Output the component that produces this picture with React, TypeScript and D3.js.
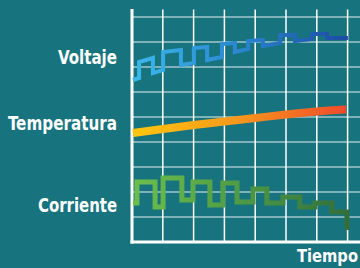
import React from "react";
import * as d3 from "d3";

const W = 360;
const H = 268;

// Grid
const timeTicks = [0, 1, 2, 3, 4, 5, 6, 7];
const levelTicks = [1, 2, 3, 4, 5, 6, 7, 8, 9];

// Series (t in grid units of time, v in grid units of level)
const voltaje: [number, number][] = [
  [0.03, 6.48], [0.23, 6.56], [0.23, 7.2], [0.68, 7.36], [0.68, 6.76], [1.01, 6.88],
  [1.01, 7.6], [1.59, 7.68], [1.59, 7.08], [2.01, 7.16], [2.01, 7.76], [2.44, 7.8],
  [2.44, 7.28], [2.92, 7.4], [2.92, 7.92], [3.34, 7.96], [3.34, 7.6], [3.77, 7.72],
  [3.77, 8.04], [4.25, 8.08], [4.25, 7.84], [4.81, 7.96], [4.81, 8.28], [5.29, 8.28],
  [5.29, 8.04], [5.84, 8.12], [5.84, 8.32], [6.33, 8.32], [6.33, 8.16], [7.01, 8.16],
];

const temperatura: [number, number][] = [
  [0.03, 4.36], [1, 4.52], [2, 4.68], [3, 4.82], [4, 4.96], [5, 5.1], [6, 5.22], [6.95, 5.3],
];

const corriente: [number, number][] = [
  [0.03, 1.56], [0.16, 1.56], [0.16, 2.4], [0.75, 2.4], [0.75, 1.4], [1.01, 1.4],
  [1.01, 2.56], [1.62, 2.56], [1.62, 1.68], [1.98, 1.68], [1.98, 2.4], [2.53, 2.4],
  [2.53, 1.48], [2.95, 1.48], [2.95, 2.36], [3.41, 2.36], [3.41, 1.6], [3.93, 1.6],
  [3.93, 2.12], [4.38, 2.12], [4.38, 1.56], [4.9, 1.56], [4.9, 1.8], [5.45, 1.8],
  [5.45, 1.4], [5.94, 1.4], [5.94, 1.56], [6.49, 1.56], [6.49, 1.2], [6.98, 1.2],
  [6.98, 0.48],
];

const seriesLabels = [
  { name: "Voltaje", level: 7.12 },
  { name: "Temperatura", level: 4.48 },
  { name: "Corriente", level: 1.2 },
];
const axisTitle = "Tiempo";

const FONT = "'Liberation Sans Narrow', 'Arial Narrow', 'DejaVu Sans Condensed', sans-serif";

export default function App() {
  const x = d3.scaleLinear().domain([0, 7]).range([132, 347.6]);
  const y = d3.scaleLinear().domain([0, 9]).range([242, 17]);

  const stepLine = d3
    .line<[number, number]>()
    .x((d) => x(d[0]))
    .y((d) => y(d[1]))
    .curve(d3.curveLinear);
  const smoothLine = d3
    .line<[number, number]>()
    .x((d) => x(d[0]))
    .y((d) => y(d[1]))
    .curve(d3.curveMonotoneX);

  const labelWidths: Record<string, number> = { Voltaje: 59, Temperatura: 109, Corriente: 79 };

  return (
    <svg
      width={W}
      height={H}
      style={{ position: "absolute", left: 0, top: 0, display: "block" }}
    >
      <defs>
        <linearGradient id="gV" gradientUnits="userSpaceOnUse" x1={x(0)} x2={x(7)} y1={0} y2={0}>
          <stop offset="0" stopColor="#3cb9ea" />
          <stop offset="0.5" stopColor="#2a86d0" />
          <stop offset="1" stopColor="#1c4aa2" />
        </linearGradient>
        <linearGradient id="gT" gradientUnits="userSpaceOnUse" x1={x(0)} x2={x(7)} y1={0} y2={0}>
          <stop offset="0" stopColor="#ffc60c" />
          <stop offset="0.5" stopColor="#f8961c" />
          <stop offset="1" stopColor="#ee4a2a" />
        </linearGradient>
        <linearGradient id="gC" gradientUnits="userSpaceOnUse" x1={x(0)} x2={x(7)} y1={0} y2={0}>
          <stop offset="0" stopColor="#6dbf4c" />
          <stop offset="0.5" stopColor="#4f9a45" />
          <stop offset="1" stopColor="#336e3a" />
        </linearGradient>
      </defs>
      <rect x={0} y={0} width={W} height={H} fill="#17747f" />

      {/* horizontal grid */}
      {levelTicks.map((t) => (
        <line
          key={"h" + t}
          x1={x(0)}
          x2={W}
          y1={y(t)}
          y2={y(t)}
          stroke="#ffffff"
          strokeOpacity={0.45}
          strokeWidth={2}
        />
      ))}
      {/* vertical grid */}
      {timeTicks.slice(1).map((t) => (
        <line
          key={"v" + t}
          x1={x(t)}
          x2={x(t)}
          y1={9.5}
          y2={y(0)}
          stroke="#ffffff"
          strokeWidth={1.5}
        />
      ))}
      {/* axes */}
      <line x1={x(0)} x2={x(0)} y1={9} y2={y(0) + 1.5} stroke="#ffffff" strokeWidth={3} />
      <line x1={x(0) - 1.5} x2={W} y1={y(0)} y2={y(0)} stroke="#ffffff" strokeWidth={3} />

      {/* series */}
      <path d={stepLine(voltaje) || ""} fill="none" stroke="url(#gV)" strokeWidth={4} strokeLinejoin="miter" />
      <path d={smoothLine(temperatura) || ""} fill="none" stroke="url(#gT)" strokeWidth={8} />
      <path d={stepLine(corriente) || ""} fill="none" stroke="url(#gC)" strokeWidth={5} strokeLinejoin="miter" />

      {/* labels */}
      {seriesLabels.map((s) => (
        <text
          key={s.name}
          x={117}
          y={y(s.level)}
          textAnchor="end"
          fill="#ffffff"
          fontFamily={FONT}
          fontWeight="bold"
          fontSize={20}
          textLength={labelWidths[s.name]}
          lengthAdjust="spacingAndGlyphs"
        >
          {s.name}
        </text>
      ))}
      <text
        x={297}
        y={262}
        fill="#ffffff"
        fontFamily={FONT}
        fontWeight="bold"
        fontSize={17}
        textLength={61}
        lengthAdjust="spacingAndGlyphs"
      >
        {axisTitle}
      </text>
    </svg>
  );
}
